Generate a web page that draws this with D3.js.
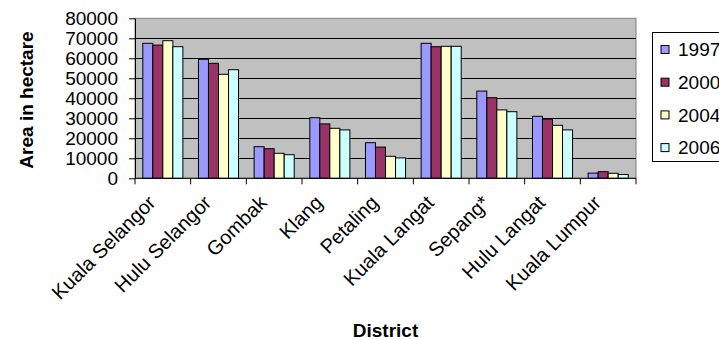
<!DOCTYPE html>
<html>
<head>
<meta charset="utf-8">
<script src="https://cdn.jsdelivr.net/npm/d3@7"></script>
<style>
body { margin: 0; background: #fff; }
text { font-family: Arial, "Liberation Sans", sans-serif; }
</style>
</head>
<body>
<script>
var w = 719;
var h = 340;

var districts = ["Kuala Selangor", "Hulu Selangor", "Gombak", "Klang", "Petaling",
    "Kuala Langat", "Sepang*", "Hulu Langat", "Kuala Lumpur"];
var years = ["1997", "2000", "2004", "2006"];
var colors = ["#9999FF", "#993366", "#FFFFCC", "#CCFFFF"];

var v1997 = [67500, 59500, 15800, 30300, 17800, 67500, 43600, 31000, 2600];
var v2000 = [66600, 57500, 14800, 27200, 15600, 65800, 40300, 29600, 3300];
var v2004 = [68800, 52000, 12500, 25000, 11000, 66000, 34200, 26500, 2500];
var v2006 = [65800, 54300, 11800, 24200, 10200, 66000, 33300, 24200, 1900];
var series = [v1997, v2000, v2004, v2006];

var yTicks = [0, 10000, 20000, 30000, 40000, 50000, 60000, 70000, 80000];

// plot area edges
var pLeft = 135, pRight = 636, pTop = 18.3, pBottom = 178.3;

var svg = d3.select("body")
    .append("svg")
    .attr("width", w)
    .attr("height", h);

var xScale = d3.scaleBand()
    .domain(districts)
    .range([pLeft, pRight])
    .paddingInner(0.28)
    .paddingOuter(0.14);

var xInner = d3.scaleBand()
    .domain(years)
    .range([0, xScale.bandwidth()]);

var yScale = d3.scaleLinear()
    .domain([0, 80000])
    .range([pBottom, pTop]);

// plot background
svg.append("rect")
    .attr("x", pLeft)
    .attr("y", pTop)
    .attr("width", pRight - pLeft)
    .attr("height", pBottom - pTop)
    .attr("fill", "#C0C0C0")
    .attr("stroke", "#808080");

// gridlines
svg.selectAll("line.grid")
    .data(yTicks.slice(1, -1))
    .enter()
    .append("line")
    .attr("class", "grid")
    .attr("x1", pLeft)
    .attr("x2", pRight)
    .attr("y1", function(d) { return Math.round(yScale(d)) + 0.5; })
    .attr("y2", function(d) { return Math.round(yScale(d)) + 0.5; })
    .attr("stroke", "#000");

// bars
var groups = svg.selectAll("g.year")
    .data(series)
    .enter()
    .append("g")
    .attr("class", "year")
    .attr("fill", function(d, i) { return colors[i]; });

groups.selectAll("rect")
    .data(function(d, i) { return d.map(function(v, j) { return { v: v, d: districts[j], y: years[i] }; }); })
    .enter()
    .append("rect")
    .attr("x", function(d) { return xScale(d.d) + xInner(d.y); })
    .attr("y", function(d) { return yScale(d.v); })
    .attr("width", xInner.bandwidth())
    .attr("height", function(d) { return pBottom - yScale(d.v); })
    .attr("stroke", "#000")
    .attr("stroke-width", 1);

// y axis
var yAxis = d3.axisLeft(yScale)
    .tickValues(yTicks)
    .tickFormat(d3.format("d"))
    .tickSize(6)
    .tickSizeOuter(0)
    .tickPadding(11);

var gy = svg.append("g")
    .attr("transform", "translate(" + pLeft + ",0)")
    .call(yAxis);
gy.selectAll("text").attr("font-size", "19px").attr("fill", "#000").attr("font-family", null);
gy.selectAll("line, path").attr("stroke", "#000");

// x axis: ticks between categories
var step = xScale.step();
var bounds = d3.range(districts.length + 1).map(function(i) { return pLeft + i * step; });

svg.append("line")
    .attr("x1", pLeft)
    .attr("x2", pRight)
    .attr("y1", pBottom)
    .attr("y2", pBottom)
    .attr("stroke", "#000");

svg.selectAll("line.xtick")
    .data(bounds)
    .enter()
    .append("line")
    .attr("class", "xtick")
    .attr("x1", function(d) { return d; })
    .attr("x2", function(d) { return d; })
    .attr("y1", pBottom)
    .attr("y2", pBottom + 6)
    .attr("stroke", "#000");

svg.selectAll("text.xlabel")
    .data(districts)
    .enter()
    .append("text")
    .attr("class", "xlabel")
    .attr("text-anchor", "end")
    .attr("font-size", "20px")
    .attr("transform", function(d) {
        return "translate(" + (xScale(d) + xScale.bandwidth() / 2 - 6) + "," + 204 + ") rotate(-45)";
    })
    .text(function(d) { return d; });

// axis titles
svg.append("text")
    .attr("text-anchor", "middle")
    .attr("font-size", "19px")
    .attr("font-weight", "bold")
    .attr("transform", "translate(33,100) rotate(-90)")
    .text("Area in hectare");

svg.append("text")
    .attr("x", (pLeft + pRight) / 2)
    .attr("y", 337)
    .attr("text-anchor", "middle")
    .attr("font-size", "19px")
    .attr("font-weight", "bold")
    .text("District");

// legend
var legend = svg.append("g");
legend.append("rect")
    .attr("x", 652.5)
    .attr("y", 32.5)
    .attr("width", 90)
    .attr("height", 129)
    .attr("fill", "#fff")
    .attr("stroke", "#000");

var items = legend.selectAll("g.item")
    .data(years)
    .enter()
    .append("g")
    .attr("class", "item")
    .attr("transform", function(d, i) { return "translate(0," + (49.5 + i * 32.7) + ")"; });

items.append("rect")
    .attr("x", 661)
    .attr("y", -4)
    .attr("width", 8)
    .attr("height", 8)
    .attr("fill", function(d, i) { return colors[i]; })
    .attr("stroke", "#000");

items.append("text")
    .attr("x", 678)
    .attr("dy", "0.36em")
    .attr("font-size", "19px")
    .text(function(d) { return d; });
</script>
</body>
</html>
